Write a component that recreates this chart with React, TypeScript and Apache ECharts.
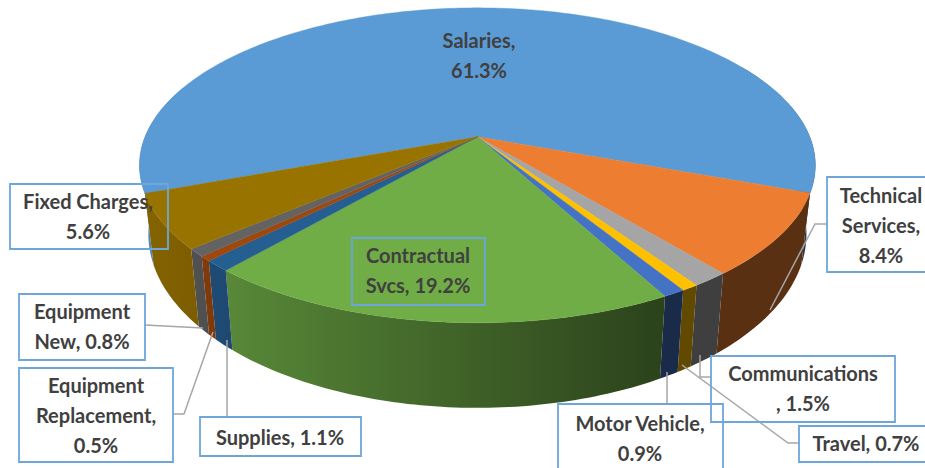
import React, { useEffect, useRef } from "react";
import * as echarts from "echarts";

const names = ["Salaries", "Technical Services", "Communications", "Travel", "Motor Vehicle", "Contractual Svcs", "Supplies", "Equipment Replacement", "Equipment New", "Fixed Charges"];
const values = [61.3, 8.4, 1.5, 0.7, 0.9, 19.2, 1.1, 0.5, 0.8, 5.6];
const colors = ["#5b9bd5", "#ed7d31", "#a5a5a5", "#ffc000", "#4472c4", "#70ad47", "#255e91", "#9e480e", "#636363", "#997300"];
const labelTexts = ["Salaries,\n61.3%", "Technical\nServices,\n8.4%", "Communications\n, 1.5%", "Travel, 0.7%", "Motor Vehicle,\n0.9%", "Contractual\nSvcs, 19.2%", "Supplies, 1.1%", "Equipment\nReplacement,\n0.5%", "Equipment\nNew, 0.8%", "Fixed Charges,\n5.6%"];
// box: x, y, w, h (null for no box); text centre x, centre y
const labelBoxes: (number[] | null)[] = [null, [827, 177, 120, 95], [711, 356, 184, 66], [799, 426, 140, 36], [558, 404, 165, 80], [352, 238, 133, 67], [200, 417, 161, 39], [19, 368, 154, 94], [19, 294, 126, 66], [10, 184, 158, 65]];
const labelCentres = [[479, 55], [881, 225], [803, 388], [866, 443], [640, 438], [418, 270], [280, 437], [96, 415], [82, 326], [88, 216]];
const leaders = [
  [[827, 224], [815, 224], [770, 310]],
  [[711, 377], [700, 377], [700, 355]],
  [[799, 443], [788, 443], [682, 365]],
  [[667, 404], [667, 372]],
  [[227, 417], [227, 340]],
  [[173, 414], [184, 414], [213, 332]],
  [[145, 325], [203, 328]],
];

const START = 159.6; // degrees, clockwise on screen, 0 at right
const K = 0.181;
const TOP = { cx: 477.4, cy: 136.8, R: 332.4, S: 152.3 };
const BOT = { cx: 477.4, cy: 202.7, R: 323.6, S: 168 };
const rad = Math.PI / 180;

function project(p: typeof TOP, deg: number) {
  const s = Math.sin(deg * rad), c = Math.cos(deg * rad), w = 1 - K * s;
  return [p.cx + (p.R * c) / w, p.cy + (p.S * s) / w];
}
function arc(p: typeof TOP, a0: number, a1: number) {
  const pts: number[][] = [];
  const n = Math.max(2, Math.ceil(Math.abs(a1 - a0)));
  for (let i = 0; i <= n; i++) pts.push(project(p, a0 + ((a1 - a0) * i) / n));
  return pts;
}
const total = values.reduce((a, b) => a + b, 0);
const starts: number[] = [];
values.reduce((acc, v, i) => { starts[i] = START + (acc / total) * 360; return acc + v; }, 0);

function shade(hex: string, f: number) {
  const n = parseInt(hex.slice(1), 16);
  const ch = [(n >> 16) & 255, (n >> 8) & 255, n & 255].map((v) => Math.round(v * f));
  return `rgb(${ch[0]},${ch[1]},${ch[2]})`;
}
function wallFactor(x: number) {
  return Math.max(0.38, 0.86 - ((x - 148) / (660 - 148)) * 0.48);
}

function renderWall(params: any, api: any) {
  const i = params.dataIndex;
  const a0 = starts[i];
  const a1 = a0 + (api.value(0) / total) * 360;
  const children: any[] = [];
  for (const [w0, w1] of [[-30, 200], [330, 560]]) {
    const s = Math.max(a0, w0), e = Math.min(a1, w1);
    if (e <= s) continue;
    const t = arc(TOP, s, e), b = arc(BOT, s, e);
    const pts = t.concat(b.slice().reverse());
    const xs = pts.map((p) => p[0]);
    const xmin = Math.min(...xs), xmax = Math.max(...xs);
    children.push({
      type: "polygon",
      shape: { points: pts },
      style: {
        fill: new echarts.graphic.LinearGradient(0, 0, 1, 0, [
          { offset: 0, color: shade(colors[i], wallFactor(xmin)) },
          { offset: 1, color: shade(colors[i], wallFactor(xmax)) },
        ]),
      },
    });
  }
  return { type: "group", children };
}
function renderTop(params: any, api: any) {
  const i = params.dataIndex;
  const a0 = starts[i];
  const a1 = a0 + (api.value(0) / total) * 360;
  const pts = [[TOP.cx, TOP.cy], ...arc(TOP, a0, a1)];
  return {
    type: "polygon",
    shape: { points: pts },
    style: { fill: colors[i], stroke: colors[i], lineWidth: 0.4 },
  };
}

export default function App() {
  const ref = useRef<HTMLDivElement>(null);
  useEffect(() => {
    const chart = echarts.init(ref.current!, undefined, { renderer: "svg" });
    const font = { fontFamily: "Lato", fontWeight: 700, fontSize: 20, lineHeight: 30 };
    const graphic: any[] = [];
    leaders.forEach((pts) =>
      graphic.push({ type: "polyline", z: 100, shape: { points: pts }, style: { stroke: "#a6a6a6", lineWidth: 1.5, fill: "none" }, silent: true })
    );
    labelBoxes.forEach((b) => {
      if (b) graphic.push({ type: "rect", z: 101, shape: { x: b[0], y: b[1], width: b[2], height: b[3] }, style: { fill: "none", stroke: "#6ea6da", lineWidth: 1.8 }, silent: true });
    });
    labelTexts.forEach((t, i) =>
      graphic.push({ type: "text", z: 102, x: labelCentres[i][0], y: labelCentres[i][1], style: { text: t, fill: "#404040", align: "center", verticalAlign: "middle", ...font }, silent: true })
    );
    chart.setOption({
      animation: false,
      backgroundColor: "#ffffff",
      series: [
        { type: "custom", name: "walls", coordinateSystem: "none", silent: true, z: 2, renderItem: renderWall, data: values.map((v, i) => ({ name: names[i], value: [v] })) },
        { type: "custom", name: "tops", coordinateSystem: "none", silent: true, z: 3, renderItem: renderTop, data: values.map((v, i) => ({ name: names[i], value: [v] })) },
      ],
      graphic,
    });
    return () => chart.dispose();
  }, []);
  return <div ref={ref} style={{ position: "fixed", left: 0, top: 0, width: 925, height: 468 }} />;
}
